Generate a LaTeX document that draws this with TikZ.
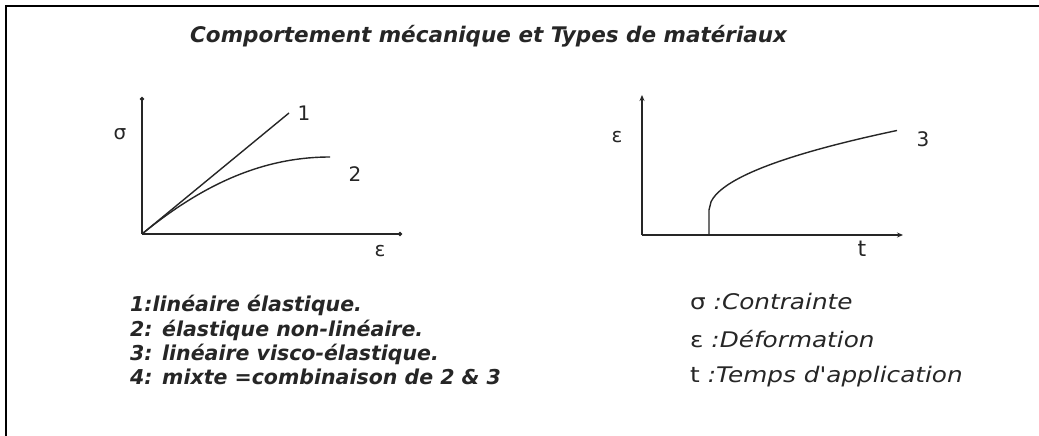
\documentclass[tikz,border=0pt]{standalone}
\usepackage{fontspec}
\setmainfont{DejaVu Sans}
\newfontfamily\legfont[FakeStretch=1.15]{DejaVu Sans}
\usetikzlibrary{arrows.meta}
\begin{document}
\begin{tikzpicture}[x=1pt,y=-1pt,
  axis/.style={line width=1.4pt, draw=black!85},
  curve/.style={line width=1.4pt, draw=black!85},
  lbl/.style={font=\fontsize{20}{20}\selectfont, inner sep=0pt, text=black!85},
  titletxt/.style={anchor=base west, inner sep=0pt, font=\fontsize{21.5}{22}\selectfont\bfseries\itshape, text=black!85},
  legl/.style={anchor=base west, inner sep=0pt, font=\fontsize{20.5}{22}\selectfont\bfseries\itshape, text=black!85},
  legr/.style={anchor=base west, inner sep=0pt, font=\legfont\fontsize{21.5}{22}\selectfont\itshape, text=black!85},
  dottip/.style={-{Circle[length=4pt]}},
  smalltip/.style={-{Stealth[length=6pt,width=5pt]}}]
\useasboundingbox (0,0) rectangle (1039,436);
\fill[white] (0,0) rectangle (1039,436);
\draw[line width=2.5pt] (6,436) -- (6,6) -- (1039,6);

% title
\node[titletxt] (title) at (190,43) {Comportement mécanique et Types de matériaux};

% left chart
\coordinate (O1) at (142,234);
\coordinate (Y1) at (142,97);
\coordinate (X1) at (402,234);
\coordinate (E1) at (289,113);
\coordinate (E2) at (330,157);
\draw[axis,dottip] (O1) -- (Y1);
\draw[axis,dottip] (O1) -- (X1);
\draw[curve] (O1) -- (E1);
\draw[curve] (O1) .. controls (202,185) and (262,157) .. (E2);
\node[lbl] (sig) at (120,134) {σ};
\node[lbl] (eps1) at (380,251) {ε};
\node[lbl] (n1) at (304,113) {1};
\node[lbl] (n2) at (355,174) {2};

% right chart
\coordinate (O2) at (642,235);
\coordinate (Y2) at (642,95);
\coordinate (X2) at (903,235);
\coordinate (S3) at (709,235);
\draw[axis,smalltip] (O2) -- (Y2);
\draw[axis,smalltip] (O2) -- (X2);
\draw[curve] (S3) -- (709,210) -- plot[domain=0:188,samples=90] ({709+\x},{210-5.8*sqrt(\x)});
\node[lbl] (eps2) at (617,137) {ε};
\node[lbl] (n3) at (923,139) {3};
\node[lbl,font=\fontsize{22}{22}\selectfont] (tl) at (862,249) {t};

% left legend
\node[legl] (l1) at (130,311) {1:linéaire élastique.};
\node[legl] (l2) at (130,336) {2: élastique non-linéaire.};
\node[legl] (l3) at (130,360) {3: linéaire visco-élastique.};
\node[legl] (l4) at (130,384) {4: mixte =combinaison de 2 \& 3};

% right legend
\node[legr] (r1) at (690,309) {{\upshape σ} :Contrainte};
\node[legr] (r2) at (690,347) {{\upshape ε} :Déformation};
\node[legr] (r3) at (690,382) {{\upshape t} :Temps d'application};
\end{tikzpicture}
\end{document}
